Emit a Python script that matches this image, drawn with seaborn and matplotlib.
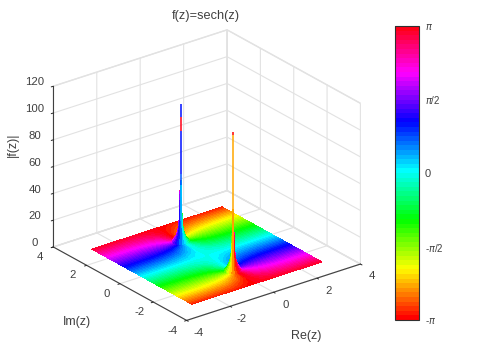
import numpy as np
import matplotlib
matplotlib.use("Agg")
import matplotlib.pyplot as plt
import seaborn as sns
from matplotlib.cm import ScalarMappable
from matplotlib.colors import Normalize
from matplotlib.transforms import ScaledTranslation

sns.set_theme(style="white")
plt.rcParams['font.family'] = ['Liberation Sans', 'DejaVu Sans']
plt.rcParams['mathtext.fontset'] = 'dejavusans'
plt.rcParams['axes.unicode_minus'] = False

TXT = '#404040'
GRID = '#e2e2e2'
PI = 3.14159

# Sampled phase of f(z), read on the surface: left half (Re z <= 0)
x_left = [-3, -2, -1.5, -1, -.7, -.4, -.2, -.1, 0]
x_right = [0, .1, .2, .4, .7, 1, 1.5, 2, 3]
y_rows = [-3, -2.5, -2, -1.8, -1.65, -1.5, -1.3, -1, -.5, 0, .5, 1, 1.3, 1.5, 1.65, 1.8, 2, 2.5, 3]
phase_left = np.array([
    [-3.00, -3.00, -3.01, -3.03, -3.06, -3.09, -3.11, -3.13, -3.14],
    [-2.50, -2.52, -2.55, -2.62, -2.72, -2.87, -3.00, -3.07, -3.14],
    [-2.00, -2.01, -2.04, -2.11, -2.22, -2.45, -2.74, -2.93, -3.14],
    [-1.80, -1.81, -1.82, -1.87, -1.94, -2.12, -2.44, -2.74, -3.14],
    [-1.65, -1.66, -1.66, -1.68, -1.70, -1.78, -1.96, -2.25, -3.14],
    [-1.50, -1.50, -1.49, -1.48, -1.45, -1.39, -1.23, -.95, 0],
    [-1.30, -1.29, -1.27, -1.22, -1.14, -.94, -.62, -.35, 0],
    [-1.00, -.98, -.95, -.87, -.76, -.53, -.30, -.15, 0],
    [-.50, -.48, -.46, -.39, -.32, -.20, -.11, -.05, 0],
    [0, 0, 0, 0, 0, 0, 0, 0, 0],
    [.50, .48, .46, .39, .32, .20, .11, .05, 0],
    [1.00, .98, .95, .87, .76, .53, .30, .15, 0],
    [1.30, 1.29, 1.27, 1.22, 1.14, .94, .62, .35, 0],
    [1.50, 1.50, 1.49, 1.48, 1.45, 1.39, 1.23, .95, 0],
    [1.65, 1.66, 1.66, 1.68, 1.70, 1.78, 1.96, 2.25, 3.14],
    [1.80, 1.81, 1.82, 1.87, 1.94, 2.12, 2.44, 2.74, 3.14],
    [2.00, 2.01, 2.04, 2.11, 2.22, 2.45, 2.74, 2.93, 3.14],
    [2.50, 2.52, 2.55, 2.62, 2.72, 2.87, 3.00, 3.07, 3.14],
    [3.00, 3.00, 3.01, 3.03, 3.06, 3.09, 3.11, 3.13, 3.14],
])
# The picture is mirrored about Re z = 0 with opposite phase
phase_right = -phase_left[:, ::-1]

peak_y = [1.57, -1.57]
funnel_r = [.32, .2, .12, .08, .05, .03, .02]
funnel_h = [0.2, 3, 7, 11, 19, 32, 45]
funnel_deg = list(range(0, 361, 15))
funnel_phase_up = [-1.70, -1.96, -2.23, -2.49, -2.75, -3.01, 3.01, 2.75, 2.49, 2.23, 1.96, 1.70,
                   1.44, 1.18, .92, .65, .39, .13, -.13, -.39, -.65, -.92, -1.18, -1.44]
funnel_phase_dn = [1.44, 1.18, .92, .65, .39, .13, -.13, -.39, -.65, -.92, -1.18, -1.44,
                   -1.70, -1.96, -2.23, -2.49, -2.75, -3.01, 3.01, 2.75, 2.49, 2.23, 1.96, 1.70]
spike_up_z = [15, 42, 50, 82, 93, 102]
spike_up_phase = [.3, .7, 1.05, 3.1, 1.05]
spike_dn_z = [15, 101, 103]
spike_dn_phase = [-2.4, -3.1]

cmap = plt.get_cmap('hsv', 64)
norm = Normalize(-PI, PI)
levels = np.linspace(-PI, PI, 65)

fig = plt.figure(figsize=(4.8, 3.6), dpi=100, facecolor='white')
ax = fig.add_axes([10 / 480, 0.0, 0.8, 1.0], projection='3d', computed_zorder=False)
ax.set_proj_type('ortho')
ax.view_init(elev=25, azim=-127.5)
ax.set_box_aspect((1, 1, 0.81), zoom=0.9625)
ax.patch.set_alpha(0)

ax.contourf(x_left, y_rows, phase_left, levels=levels, zdir='z', offset=0, cmap=cmap, norm=norm, zorder=2, antialiased=False)
ax.contourf(x_right, y_rows, phase_right, levels=levels, zdir='z', offset=0, cmap=cmap, norm=norm, zorder=2, antialiased=False)

th = np.deg2rad(funnel_deg)
for py, ph in zip(peak_y, [funnel_phase_up, funnel_phase_dn]):
    X = np.outer(funnel_r, np.cos(th))
    Y = py + np.outer(funnel_r, np.sin(th))
    Z = np.tile(np.array(funnel_h)[:, None], (1, len(th)))
    fc = np.array([[cmap(norm(p)) for p in ph]] * (len(funnel_r) - 1))
    ax.plot_surface(X, Y, Z, facecolors=fc, shade=False, linewidth=0, antialiased=False, zorder=3, rstride=1, cstride=1)

for py, zs, ps in [(peak_y[0], spike_up_z, spike_up_phase), (peak_y[1], spike_dn_z, spike_dn_phase)]:
    for i, p in enumerate(ps):
        ax.plot([0, 0], [py, py], [zs[i], zs[i + 1]], color=cmap(norm(p)), lw=1.1, zorder=4, solid_capstyle='butt')

ax.set_xlim(-4, 4); ax.set_ylim(-4, 4); ax.set_zlim(0, 120)
ax.set_xticks([-4, -2, 0, 2, 4]); ax.set_yticks([-4, -2, 0, 2, 4]); ax.set_zticks(range(0, 121, 20))
ax.tick_params(labelsize=8.2, labelcolor=TXT, pad=-2)
ax.set_xlabel('Re(z)', fontsize=9, color=TXT, labelpad=-3)
ax.set_ylabel('Im(z)', fontsize=9, color=TXT, labelpad=-3)
ax.set_zlabel('|f(z)|', fontsize=9, color=TXT, labelpad=-3)
ax.xaxis.set_rotate_label(False); ax.yaxis.set_rotate_label(False); ax.zaxis.set_rotate_label(False)
ax.xaxis.label.set_rotation(0); ax.yaxis.label.set_rotation(0); ax.zaxis.label.set_rotation(90)


def nudge(a, tick_off, lab_off):
    """mplot3d resets these transforms at draw time, so the offsets go in just after that."""
    tick_tr = ax.transData + ScaledTranslation(tick_off[0] / 100, tick_off[1] / 100, fig.dpi_scale_trans)
    lab_tr = ax.transData + ScaledTranslation(lab_off[0] / 100, lab_off[1] / 100, fig.dpi_scale_trans)
    base_ticks = a.get_major_ticks
    base_draw = a.label.draw

    def get_major_ticks(numticks=None):
        ticks = base_ticks(numticks)
        for t in ticks:
            t.label1.set_transform(tick_tr)
        return ticks

    def draw_label(renderer):
        a.label._transform = lab_tr
        base_draw(renderer)

    a.get_major_ticks = get_major_ticks
    a.label.draw = draw_label


for a, tick_off, lab_off in [(ax.xaxis, (6, 3), (15, -13)), (ax.yaxis, (-6, 4.5), (-20, -9)), (ax.zaxis, (-5, 8), (0, 20))]:
    a.set_pane_color((1, 1, 1, 1))
    a.pane.set_edgecolor(GRID)
    a._axinfo['grid'].update(color=GRID, linewidth=0.8)
    a._axinfo['tick'].update(inward_factor=0.15, outward_factor=0.0, linewidth={True: 0.7, False: 0.7}, color=TXT)
    a.line.set_color('#404040')
    a.line.set_linewidth(0.8)
    nudge(a, tick_off, lab_off)
ax.grid(True)
fig.text(206 / 480, 1 - 16 / 360, 'f(z)=sech(z)', ha='center', va='center', fontsize=9.2, color=TXT)

cax = fig.add_axes([395 / 480, 40 / 360, 24 / 480, 294 / 360])
cb = fig.colorbar(ScalarMappable(norm=norm, cmap=cmap), cax=cax)
cb.set_ticks([-PI, -PI / 2, 0, PI / 2, PI])
cb.set_ticklabels(['-$\\pi$', '-$\\pi$/2', '0', '$\\pi$/2', '$\\pi$'])
cb.ax.tick_params(labelsize=7, labelcolor=TXT, direction='in', length=2, width=.6, right=True, pad=4, color='#303030')
cb.ax.get_yticklabels()[2].set_fontsize(8)
cb.outline.set_edgecolor('#303030'); cb.outline.set_linewidth(.8)

fig.savefig('out.png', dpi=100, facecolor='white')
